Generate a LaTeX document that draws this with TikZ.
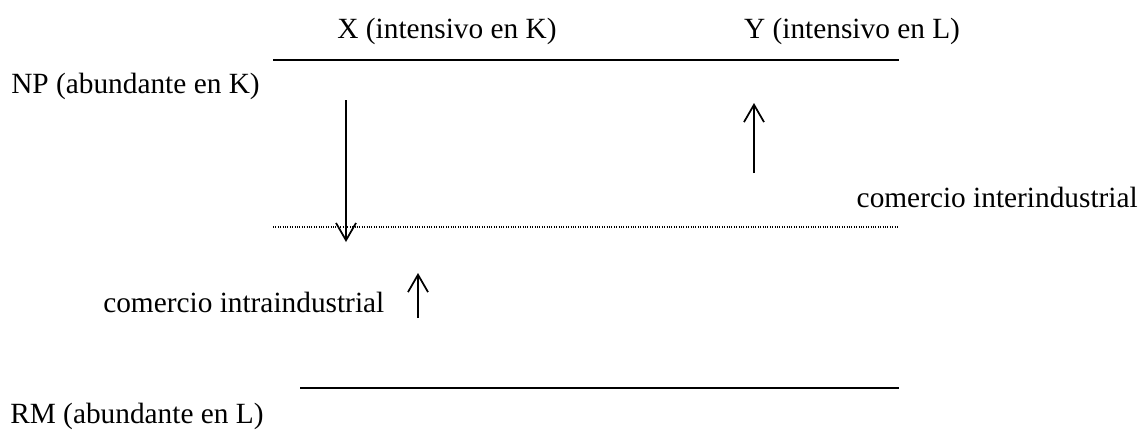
\documentclass[tikz,border=0pt]{standalone}
\usepackage{fontspec}
\setmainfont{Liberation Serif}
\usetikzlibrary{arrows.meta}
\tikzset{
	lbl/.style={inner sep=0pt, font=\fontsize{22}{26}\selectfont},
	flow/.style={line width=1.3pt, -{Straight Barb[length=13pt, width=15pt, line width=1.3pt]}},
	bar/.style={line width=1.3pt}
}
\begin{document}
\begin{tikzpicture}[x=0.75pt, y=-0.75pt]
		\useasboundingbox (0,0) rectangle (1145,430);

		% Labels
		\node[lbl, anchor=base] (goodx) at (447,38) {X (intensivo en K)};
		\node[lbl, anchor=base] (goody) at (852,38) {Y (intensivo en L)};
		\node[lbl, anchor=base west] (np) at (11,93) {NP (abundante en K)};
		\node[lbl, anchor=base west] (rm) at (10,423) {RM (abundante en L)};
		\node[lbl, anchor=base east] (inter) at (1138,207) {comercio interindustrial};
		\node[lbl, anchor=base west] (intra) at (103,312) {comercio intraindustrial};

		% Draw lines
		\coordinate (topl) at (273,60);
		\coordinate (topr) at (899,60);
		\coordinate (midl) at (273,227);
		\coordinate (midr) at (899,227);
		\coordinate (botl) at (300,388);
		\coordinate (botr) at (899,388);
		\draw[bar] (topl) -- (topr);
		\draw[densely dotted, line width=0.8pt] (midl) -- (midr);
		\draw[bar] (botl) -- (botr);

		% Draw arrows
		\coordinate (xs) at (346,100);
		\coordinate (xe) at (346,242);
		\coordinate (ys) at (754,173);
		\coordinate (ye) at (754,103);
		\coordinate (is) at (418,318);
		\coordinate (ie) at (418,273);
		\draw[flow] (xs) -- (xe);
		\draw[flow] (ys) -- (ye);
		\draw[flow] (is) -- (ie);
	\end{tikzpicture}
\end{document}
